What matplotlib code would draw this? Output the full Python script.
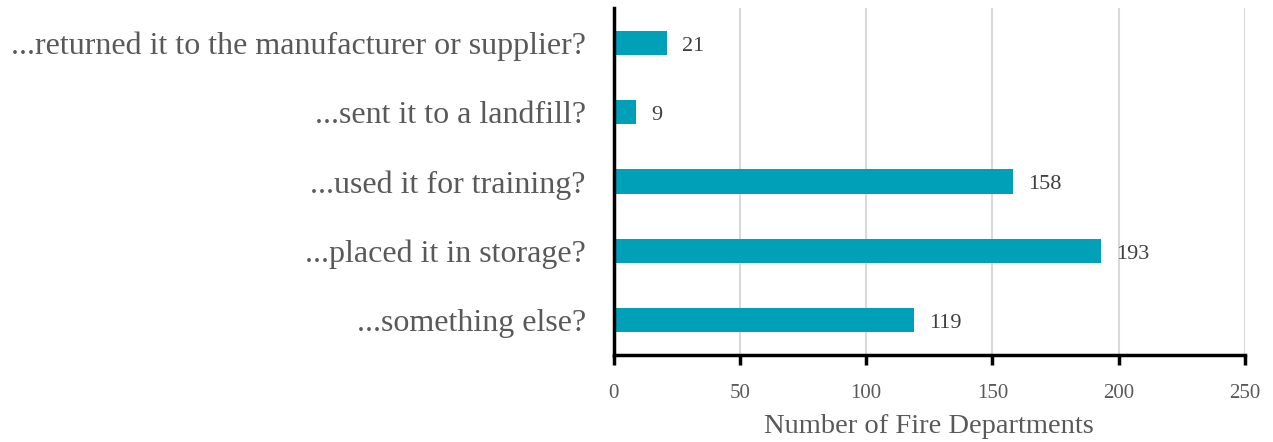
import matplotlib
matplotlib.use("Agg")
from matplotlib import pyplot as plt

categories = ["...returned it to the manufacturer or supplier?",
              "...sent it to a landfill?",
              "...used it for training?",
              "...placed it in storage?",
              "...something else?"]
counts = [21, 9, 158, 193, 119]
xticks = [0, 50, 100, 150, 200, 250]

plt.rcParams['font.family'] = ['Liberation Serif', 'DejaVu Serif']

fig = plt.figure(figsize=(12.73, 4.42), dpi=100)
ax = fig.add_axes([0.482, 0.197, 0.496, 0.785])

ypos = list(range(len(categories)))
ax.barh(ypos, counts, height=0.35, color="#00A0B8", zorder=3)
for y, v in zip(ypos, counts):
    ax.text(v + 6, y + 0.05, str(v), va="center", ha="left", fontsize=16, color="#404040")

ax.set_ylim(4.5, -0.5)
ax.set_xlim(0, 250)
ax.set_yticks(ypos)
ax.set_yticklabels(categories, fontsize=23, color="#595959")
ax.set_xticks(xticks)
ax.set_xticklabels([str(t) for t in xticks], fontsize=15, color="#595959")
ax.tick_params(axis="y", length=0, pad=20)
ax.tick_params(axis="x", length=7, width=2.5, color="black", direction="out", pad=14)
ax.grid(axis="x", color="#d9d9d9", linewidth=1.5, zorder=0)

for s in ["top", "right"]:
    ax.spines[s].set_visible(False)
for s in ["left", "bottom"]:
    ax.spines[s].set_linewidth(2.5)
    ax.spines[s].set_color("black")
    ax.spines[s].set_zorder(4)

ax.set_xlabel("Number of Fire Departments", fontsize=20.5, color="#595959", labelpad=8)

fig.savefig("out.png", dpi=100)
